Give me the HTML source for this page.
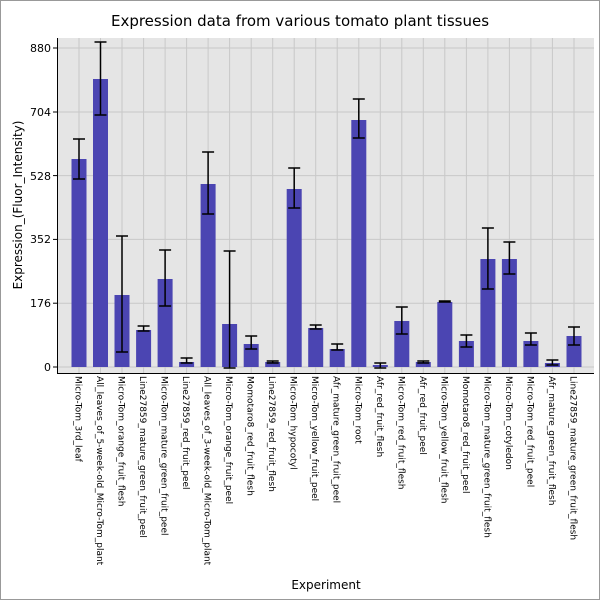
<!DOCTYPE html>
<html><head><style>body{margin:0;background:#fff}svg{display:block;font-family:"DejaVu Sans","Liberation Sans",sans-serif}</style></head><body>
<svg width="600" height="600" xmlns="http://www.w3.org/2000/svg">
<rect x="0.5" y="0.5" width="599" height="599" fill="#fff" stroke="#999"/>
<text x="300" y="26" font-size="15" text-anchor="middle">Expression data from various tomato plant tissues</text>
<rect x="57" y="38" width="537" height="335" fill="#e5e5e5"/>
<g stroke="#c8c8c8" stroke-width="1">
<line x1="57" x2="594" y1="48" y2="48"/><line x1="57" x2="594" y1="112" y2="112"/><line x1="57" x2="594" y1="175.6" y2="175.6"/><line x1="57" x2="594" y1="239.4" y2="239.4"/><line x1="57" x2="594" y1="303.2" y2="303.2"/><line x1="57" x2="594" y1="367" y2="367"/>
<line x1="79" x2="79" y1="38" y2="373"/><line x1="100.5" x2="100.5" y1="38" y2="373"/><line x1="122" x2="122" y1="38" y2="373"/><line x1="143.6" x2="143.6" y1="38" y2="373"/><line x1="165.1" x2="165.1" y1="38" y2="373"/><line x1="186.6" x2="186.6" y1="38" y2="373"/><line x1="208.1" x2="208.1" y1="38" y2="373"/><line x1="229.6" x2="229.6" y1="38" y2="373"/><line x1="251.2" x2="251.2" y1="38" y2="373"/><line x1="272.7" x2="272.7" y1="38" y2="373"/><line x1="294.2" x2="294.2" y1="38" y2="373"/><line x1="315.7" x2="315.7" y1="38" y2="373"/><line x1="337.2" x2="337.2" y1="38" y2="373"/><line x1="358.8" x2="358.8" y1="38" y2="373"/><line x1="380.3" x2="380.3" y1="38" y2="373"/><line x1="401.8" x2="401.8" y1="38" y2="373"/><line x1="423.3" x2="423.3" y1="38" y2="373"/><line x1="444.8" x2="444.8" y1="38" y2="373"/><line x1="466.4" x2="466.4" y1="38" y2="373"/><line x1="487.9" x2="487.9" y1="38" y2="373"/><line x1="509.4" x2="509.4" y1="38" y2="373"/><line x1="530.9" x2="530.9" y1="38" y2="373"/><line x1="552.4" x2="552.4" y1="38" y2="373"/><line x1="574" x2="574" y1="38" y2="373"/>
</g>
<g fill="#4b45b2">
<rect x="71.5" y="159" width="15" height="208"/><rect x="93" y="79" width="15" height="288"/><rect x="114.5" y="295" width="15" height="72"/><rect x="136.1" y="330" width="15" height="37"/><rect x="157.6" y="279" width="15" height="88"/><rect x="179.1" y="362" width="15" height="5"/><rect x="200.6" y="184" width="15" height="183"/><rect x="222.1" y="324" width="15" height="43"/><rect x="243.7" y="344" width="15" height="23"/><rect x="265.2" y="362" width="15" height="5"/><rect x="286.7" y="189" width="15" height="178"/><rect x="308.2" y="328" width="15" height="39"/><rect x="329.7" y="349" width="15" height="18"/><rect x="351.3" y="120" width="15" height="247"/><rect x="372.8" y="365" width="15" height="2"/><rect x="394.3" y="321" width="15" height="46"/><rect x="415.8" y="362" width="15" height="5"/><rect x="437.3" y="302" width="15" height="65"/><rect x="458.9" y="341" width="15" height="26"/><rect x="480.4" y="259" width="15" height="108"/><rect x="501.9" y="259" width="15" height="108"/><rect x="523.4" y="341" width="15" height="26"/><rect x="544.9" y="363" width="15" height="4"/><rect x="566.5" y="336" width="15" height="31"/>
</g>
<g stroke="#000" stroke-width="1.5" fill="none">
<path d="M79 139V179M73 139H85M73 179H85"/>
<path d="M100.5 42V115M94.5 42H106.5M94.5 115H106.5"/>
<path d="M122 236V352M116 236H128M116 352H128"/>
<path d="M143.6 326V331M137.6 326H149.6M137.6 331H149.6"/>
<path d="M165.1 250V306M159.1 250H171.1M159.1 306H171.1"/>
<path d="M186.6 358V363M180.6 358H192.6M180.6 363H192.6"/>
<path d="M208.1 152V214M202.1 152H214.1M202.1 214H214.1"/>
<path d="M229.6 251V368M223.6 251H235.6M223.6 368H235.6"/>
<path d="M251.2 336V349M245.2 336H257.2M245.2 349H257.2"/>
<path d="M272.7 361V363M266.7 361H278.7M266.7 363H278.7"/>
<path d="M294.2 168V208M288.2 168H300.2M288.2 208H300.2"/>
<path d="M315.7 325V329M309.7 325H321.7M309.7 329H321.7"/>
<path d="M337.2 344V350M331.2 344H343.2M331.2 350H343.2"/>
<path d="M358.8 99V138M352.8 99H364.8M352.8 138H364.8"/>
<path d="M380.3 363V368M374.3 363H386.3M374.3 368H386.3"/>
<path d="M401.8 307V334M395.8 307H407.8M395.8 334H407.8"/>
<path d="M423.3 361V363M417.3 361H429.3M417.3 363H429.3"/>
<path d="M444.8 301V302M438.8 301H450.8M438.8 302H450.8"/>
<path d="M466.4 335V347M460.4 335H472.4M460.4 347H472.4"/>
<path d="M487.9 228V289M481.9 228H493.9M481.9 289H493.9"/>
<path d="M509.4 242V274M503.4 242H515.4M503.4 274H515.4"/>
<path d="M530.9 333V345M524.9 333H536.9M524.9 345H536.9"/>
<path d="M552.4 360V365M546.4 360H558.4M546.4 365H558.4"/>
<path d="M574 327V345M568 327H580M568 345H580"/>
</g>
<path d="M57.5 38V373.5H594" stroke="#000" fill="none"/>
<g stroke="#000"><line x1="53" x2="57" y1="48" y2="48"/><line x1="53" x2="57" y1="112" y2="112"/><line x1="53" x2="57" y1="175.6" y2="175.6"/><line x1="53" x2="57" y1="239.4" y2="239.4"/><line x1="53" x2="57" y1="303.2" y2="303.2"/><line x1="53" x2="57" y1="367" y2="367"/></g>
<g font-size="11" text-anchor="end">
<text x="51" y="52">880</text><text x="51" y="116">704</text><text x="51" y="180">528</text><text x="51" y="243">352</text><text x="51" y="307">176</text><text x="51" y="371">0</text>
</g>
<text transform="translate(22,205) rotate(-90)" font-size="12" text-anchor="middle">Expression_(Fluor_Intensity)</text>
<text x="326" y="589" font-size="12" text-anchor="middle">Experiment</text>
<g font-size="9">
<text transform="translate(75.5,376) rotate(90)">Micro-Tom_3rd_leaf</text>
<text transform="translate(97,376) rotate(90)">All_leaves_of_5-week-old_Micro-Tom_plant</text>
<text transform="translate(118.5,376) rotate(90)">Micro-Tom_orange_fruit_flesh</text>
<text transform="translate(140.1,376) rotate(90)">Line27859_mature_green_fruit_peel</text>
<text transform="translate(161.6,376) rotate(90)">Micro-Tom_mature_green_fruit_peel</text>
<text transform="translate(183.1,376) rotate(90)">Line27859_red_fruit_peel</text>
<text transform="translate(204.6,376) rotate(90)">All_leaves_of_3-week-old_Micro-Tom_plant</text>
<text transform="translate(226.1,376) rotate(90)">Micro-Tom_orange_fruit_peel</text>
<text transform="translate(247.7,376) rotate(90)">Momotaro8_red_fruit_flesh</text>
<text transform="translate(269.2,376) rotate(90)">Line27859_red_fruit_flesh</text>
<text transform="translate(290.7,376) rotate(90)">Micro-Tom_hypocotyl</text>
<text transform="translate(312.2,376) rotate(90)">Micro-Tom_yellow_fruit_peel</text>
<text transform="translate(333.7,376) rotate(90)">Afr_mature_green_fruit_peel</text>
<text transform="translate(355.3,376) rotate(90)">Micro-Tom_root</text>
<text transform="translate(376.8,376) rotate(90)">Afr_red_fruit_flesh</text>
<text transform="translate(398.3,376) rotate(90)">Micro-Tom_red_fruit_flesh</text>
<text transform="translate(419.8,376) rotate(90)">Afr_red_fruit_peel</text>
<text transform="translate(441.3,376) rotate(90)">Micro-Tom_yellow_fruit_flesh</text>
<text transform="translate(462.9,376) rotate(90)">Momotaro8_red_fruit_peel</text>
<text transform="translate(484.4,376) rotate(90)">Micro-Tom_mature_green_fruit_flesh</text>
<text transform="translate(505.9,376) rotate(90)">Micro-Tom_cotyledon</text>
<text transform="translate(527.4,376) rotate(90)">Micro-Tom_red_fruit_peel</text>
<text transform="translate(548.9,376) rotate(90)">Afr_mature_green_fruit_flesh</text>
<text transform="translate(570.5,376) rotate(90)">Line27859_mature_green_fruit_flesh</text>
</g>
</svg>
</body></html>
